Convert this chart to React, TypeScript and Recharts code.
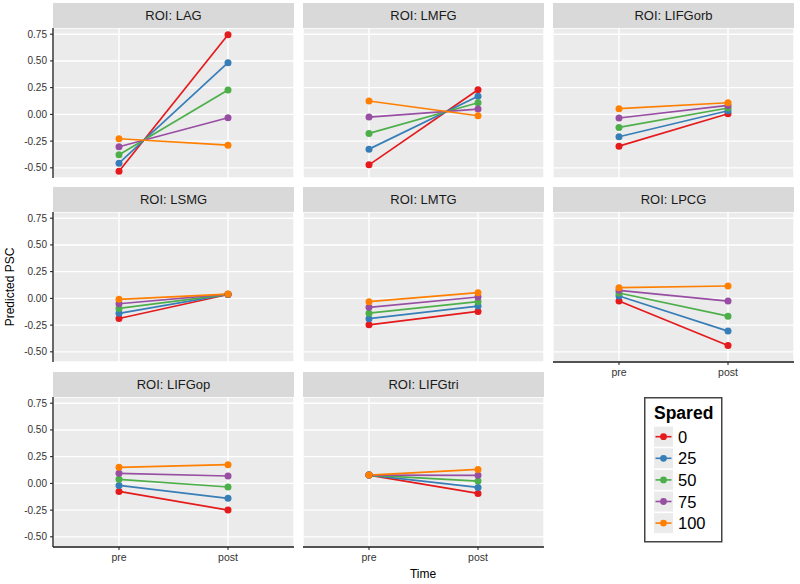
import React from 'react';
import { LineChart, Line, XAxis, YAxis, CartesianGrid } from 'recharts';

const times = ['pre', 'post'];
const spared = ['0', '25', '50', '75', '100'];
const colors = ['#E41A1C', '#377EB8', '#4DAF4A', '#984EA3', '#FF7F00'];
const yTicks = [-0.5, -0.25, 0, 0.25, 0.5, 0.75];
const yDomain: [number, number] = [-0.595, 0.808];

// values ordered by Spared level: 0, 25, 50, 75, 100
const LAG_pre = [-0.531, -0.456, -0.378, -0.303, -0.228];
const LAG_post = [0.744, 0.484, 0.228, -0.031, -0.288];
const LMFG_pre = [-0.472, -0.325, -0.178, -0.025, 0.125];
const LMFG_post = [0.231, 0.169, 0.109, 0.05, -0.013];
const LIFGorb_pre = [-0.297, -0.209, -0.122, -0.034, 0.053];
const LIFGorb_post = [0.006, 0.034, 0.06, 0.084, 0.109];
const LSMG_pre = [-0.188, -0.14, -0.094, -0.05, -0.009];
const LSMG_post = [0.036, 0.037, 0.038, 0.039, 0.04];
const LMTG_pre = [-0.247, -0.19, -0.138, -0.084, -0.031];
const LMTG_post = [-0.122, -0.072, -0.031, 0.013, 0.053];
const LPCG_pre = [-0.025, 0.022, 0.05, 0.075, 0.1];
const LPCG_post = [-0.44, -0.306, -0.166, -0.025, 0.116];
const LIFGop_pre = [-0.075, -0.019, 0.038, 0.094, 0.15];
const LIFGop_post = [-0.25, -0.14, -0.034, 0.069, 0.175];
const LIFGtri_pre = [0.078, 0.078, 0.078, 0.078, 0.078];
const LIFGtri_post = [-0.094, -0.038, 0.022, 0.075, 0.131];

const rois = ['LAG', 'LMFG', 'LIFGorb', 'LSMG', 'LMTG', 'LPCG', 'LIFGop', 'LIFGtri'];
const roiValues = [
  [LAG_pre, LAG_post],
  [LMFG_pre, LMFG_post],
  [LIFGorb_pre, LIFGorb_post],
  [LSMG_pre, LSMG_post],
  [LMTG_pre, LMTG_post],
  [LPCG_pre, LPCG_post],
  [LIFGop_pre, LIFGop_post],
  [LIFGtri_pre, LIFGtri_post],
];

const FONT = '"Liberation Sans", Arial, Helvetica, sans-serif';
const COL_X = [53, 303, 553];
const ROW_Y = [3, 187, 372];
const PW = 241;
const STRIP_H = 25;
const PH = 150;
const XPAD = 66;
const AXIS_COL = '#1a1a1a';

function buildData(vals: number[][]) {
  return times.map((t, ti) => {
    const row: Record<string, any> = { time: t };
    spared.forEach((s, si) => {
      row['s' + s] = vals[ti][si];
    });
    return row;
  });
}

function Panel({ idx }: { idx: number }) {
  const col = idx % 3;
  const row = Math.floor(idx / 3);
  const showY = col === 0;
  const showX = idx >= 5;
  const yW = 53;
  const left = showY ? COL_X[col] - yW : COL_X[col];
  const width = showY ? PW + yW : PW;
  const height = PH + (showX ? 26 : 0);
  const data = buildData(roiValues[idx]);
  return (
    <>
      <div
        style={{
          position: 'absolute',
          left: COL_X[col],
          top: ROW_Y[row],
          width: PW,
          height: STRIP_H,
          background: '#D9D9D9',
          color: '#1a1a1a',
          fontFamily: FONT,
          fontSize: 13,
          display: 'flex',
          alignItems: 'center',
          justifyContent: 'center',
        }}
      >
        {'ROI: ' + rois[idx]}
      </div>
      <div style={{ position: 'absolute', left, top: ROW_Y[row] + STRIP_H }}>
        <LineChart width={width} height={height} data={data} margin={{ top: 0, right: 0, bottom: 0, left: 0 }}>
          <CartesianGrid fill="#EBEBEB" fillOpacity={1} stroke="#ffffff" strokeWidth={1.4} />
          <XAxis
            dataKey="time"
            type="category"
            padding={{ left: XPAD, right: XPAD }}
            hide={!showX}
            height={26}
            tickSize={3}
            tickMargin={4}
            axisLine={{ stroke: AXIS_COL, strokeWidth: 1.3 }}
            tickLine={{ stroke: AXIS_COL }}
            tick={{ fill: '#333', fontSize: 10.5, fontFamily: FONT }}
            interval={0}
          />
          <YAxis
            type="number"
            domain={yDomain}
            ticks={yTicks}
            allowDataOverflow
            hide={!showY}
            width={yW}
            tickSize={3}
            tickMargin={3}
            interval={0}
            axisLine={{ stroke: AXIS_COL, strokeWidth: 1.3 }}
            tickLine={{ stroke: AXIS_COL }}
            tick={{ fill: '#333', fontSize: 10, fontFamily: FONT }}
            tickFormatter={(v: number) => v.toFixed(2)}
          />
          {spared.map((s, si) => (
            <Line
              key={s}
              type="linear"
              dataKey={'s' + s}
              stroke={colors[si]}
              strokeWidth={1.7}
              dot={{ r: 3.5, fill: colors[si], stroke: colors[si], strokeWidth: 0 }}
              activeDot={false}
              isAnimationActive={false}
            />
          ))}
        </LineChart>
      </div>
    </>
  );
}

function LegendBox() {
  const top0 = 39.7;
  const step = 21.6;
  return (
    <svg style={{ position: 'absolute', left: 644, top: 397 }} width={79} height={146}>
      <rect x={0.75} y={0.75} width={77} height={144} fill="#ffffff" stroke="#444" strokeWidth={1.5} />
      <text x={10} y={22} fontFamily={FONT} fontSize={17.5} fontWeight="bold" fill="#000">
        Spared
      </text>
      {spared.map((s, si) => {
        const cy = top0 + si * step;
        return (
          <g key={s}>
            <rect x={10} y={cy - 10} width={19} height={20} fill="#EBEBEB" />
            <line x1={11.5} x2={27.5} y1={cy} y2={cy} stroke={colors[si]} strokeWidth={1.6} />
            <circle cx={19.5} cy={cy} r={3.4} fill={colors[si]} />
            <text x={34} y={cy + 6} fontFamily={FONT} fontSize={16.5} fill="#000">
              {s}
            </text>
          </g>
        );
      })}
    </svg>
  );
}

export default function App() {
  return (
    <div style={{ position: 'absolute', left: 0, top: 0, width: 800, height: 584, background: '#fff', overflow: 'hidden' }}>
      {rois.map((r, i) => (
        <Panel key={r} idx={i} />
      ))}
      <svg style={{ position: 'absolute', left: 0, top: 0 }} width={800} height={584}>
        <text
          x={9.5}
          y={287}
          transform="rotate(-90 9.5 287)"
          textAnchor="middle"
          dominantBaseline="central"
          fontFamily={FONT}
          fontSize={12}
          fill="#000"
        >
          Predicted PSC
        </text>
        <text x={423} y={574} textAnchor="middle" dominantBaseline="central" fontFamily={FONT} fontSize={12} fill="#000">
          Time
        </text>
      </svg>
      <LegendBox />
    </div>
  );
}
